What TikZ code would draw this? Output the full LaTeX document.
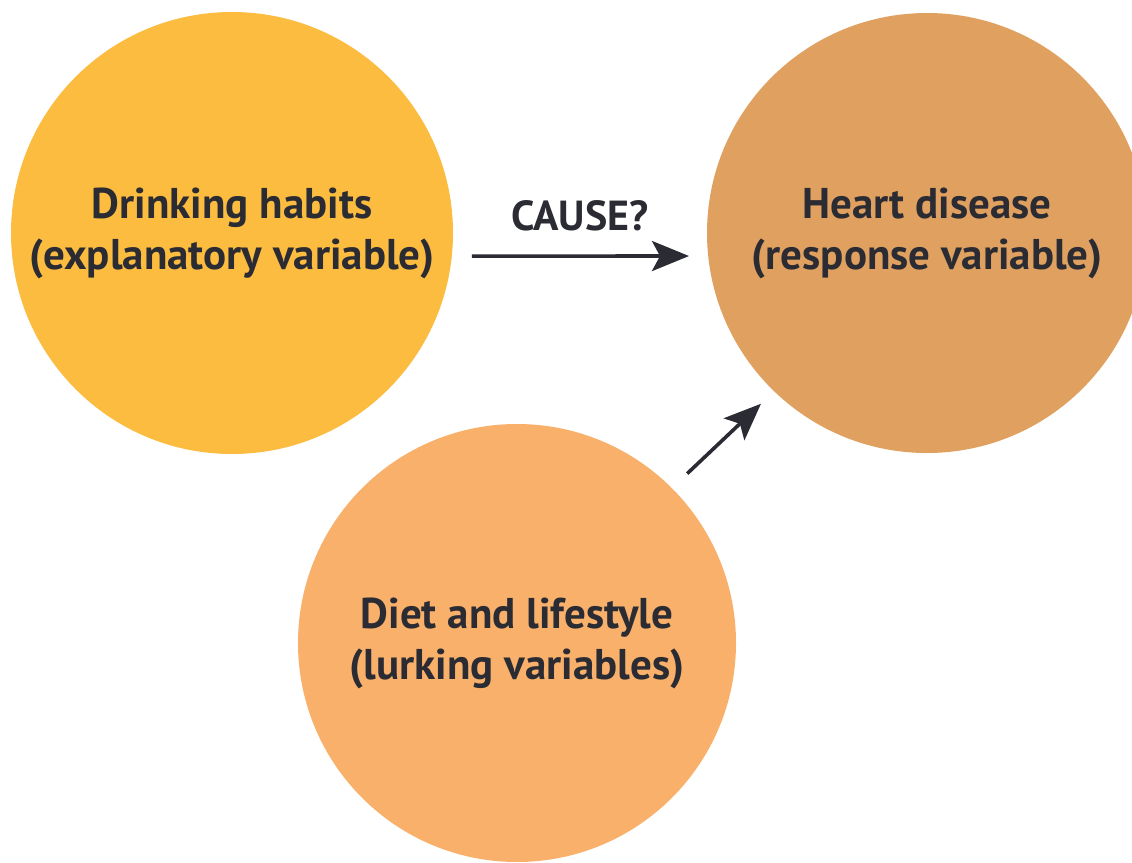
\documentclass[tikz,border=0pt]{standalone}
\usepackage{fontspec}
\setmainfont{PT Sans}
\usetikzlibrary{arrows.meta}
\definecolor{cyellow}{HTML}{FBBC3F}
\definecolor{corange}{HTML}{E0A160}
\definecolor{cpeach}{HTML}{F8B06A}
\definecolor{ctext}{HTML}{2B2C33}
\begin{document}
\begin{tikzpicture}[x=1pt,y=-1pt,
  bubble/.style={circle,inner sep=0pt,draw=none,align=center,text=ctext,
    font=\fontsize{43}{51}\selectfont\bfseries},
  conn/.style={line width=3.6pt,draw=ctext,-{Triangle[length=37pt,width=30pt,inset=8pt]}}]
\useasboundingbox (0,0) rectangle (1132,862);
\clip (0,0) rectangle (1132,862);
\fill[white] (0,0) rectangle (1132,862);
\node[bubble,fill=cyellow,minimum size=442pt] (dh) at (232,233)
  {Drinking habits\\(explanatory variable)};
\node[bubble,fill=corange,minimum size=440pt] (hd) at (927,233)
  {Heart disease\\(response variable)};
\node[bubble,fill=cpeach,minimum size=438pt] (lv) at (517,643)
  {Diet and lifestyle\\(lurking variables)};
\draw[conn,shorten <=20pt,shorten >=19pt] (dh.-6.2) -- (hd.186.2)
  node[pos=0.5,above=20pt,text=ctext,font=\fontsize{42}{48}\selectfont\bfseries] (cause) {CAUSE?};
\draw[conn,shorten <=21pt,shorten >=18pt] (lv.45) -- (hd.226);
\end{tikzpicture}
\end{document}
